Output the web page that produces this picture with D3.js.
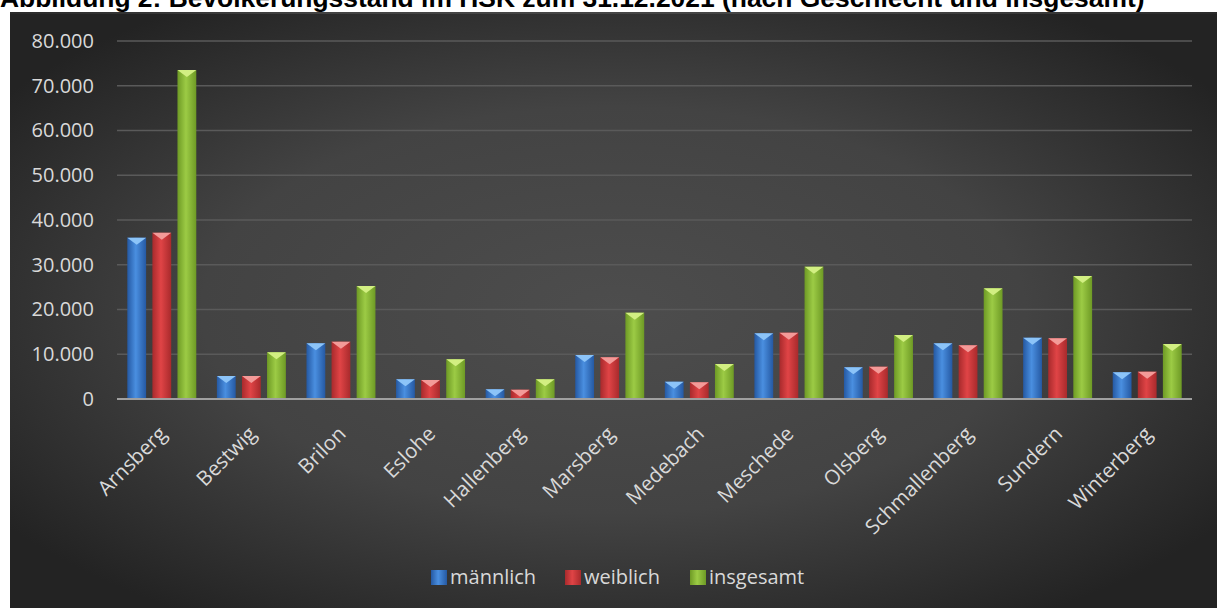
<!DOCTYPE html>
<html><head><meta charset="utf-8">
<script src="https://cdn.jsdelivr.net/npm/d3@7"></script>
<style>html,body{margin:0;padding:0;background:#fff;overflow:hidden}</style>
</head><body>
<svg id="c" width="1217" height="608"></svg>
<script>
const title = "Abbildung 2: Bevölkerungsstand im HSK zum 31.12.2021 (nach Geschlecht und insgesamt)";
const categories = ["Arnsberg","Bestwig","Brilon","Eslohe","Hallenberg","Marsberg","Medebach","Meschede","Olsberg","Schmallenberg","Sundern","Winterberg"];
const seriesNames = ["männlich","weiblich","insgesamt"];
const maennlich = [36050, 5140, 12450, 4400, 2170, 9830, 3870, 14680, 7080, 12440, 13700, 5960];
const weiblich  = [37150, 5140, 12810, 4250, 2080, 9310, 3720, 14820, 7220, 11990, 13550, 6110];
const insgesamt = [73500, 10430, 25250, 8870, 4400, 19290, 7820, 29570, 14300, 24730, 27490, 12290];
const yTicks = [0,10000,20000,30000,40000,50000,60000,70000,80000];

const seriesValues = [maennlich, weiblich, insgesamt];
const colors = [
  {dark:"#2559a3", mid:"#4a8fe0", cap:"#8cc4f8"},
  {dark:"#a82a2c", mid:"#e04446", cap:"#f39a98"},
  {dark:"#6e9a25", mid:"#9ccb45", cap:"#d2ef82"}
];

const svg = d3.select("#c");
const defs = svg.append("defs");
const bg = defs.append("radialGradient").attr("id","bg").attr("cx","50%").attr("cy","50%").attr("r","62%");
bg.append("stop").attr("offset","0%").attr("stop-color","#4d4d4d");
bg.append("stop").attr("offset","55%").attr("stop-color","#434343");
bg.append("stop").attr("offset","100%").attr("stop-color","#232323");
colors.forEach((c,i)=>{
  const g = defs.append("linearGradient").attr("id","bar"+i).attr("x1","0").attr("x2","1").attr("y1","0").attr("y2","0");
  g.append("stop").attr("offset","0%").attr("stop-color",c.dark);
  g.append("stop").attr("offset","45%").attr("stop-color",c.mid);
  g.append("stop").attr("offset","100%").attr("stop-color",c.dark);
});

// background
svg.append("rect").attr("x",10).attr("y",12).attr("width",1207).attr("height",596).attr("fill","url(#bg)");

// title
const t = svg.append("text").attr("x",0).attr("y",7)
  .attr("font-family","'Liberation Sans', Arial, sans-serif").attr("font-weight","bold")
  .attr("font-size",19).attr("fill","#000").text(title);
const tl = t.node().getComputedTextLength();
t.attr("font-size", 19*1145/tl);
svg.append("rect").attr("x",10).attr("y",12).attr("width",1207).attr("height",2).attr("fill","url(#bg)");

const x0 = d3.scaleBand().domain(categories).range([117,1192]).paddingInner(0.23).paddingOuter(0.115);
const x1 = d3.scaleBand().domain(seriesNames).range([0,x0.bandwidth()]).paddingInner(0.25);
const y = d3.scaleLinear().domain([0,80000]).range([399,41]);
const loc = d3.formatLocale({decimal:",", thousands:".", grouping:[3], currency:["","€"]});
const fmt = loc.format(",");

// gridlines
svg.append("g").selectAll("line").data(yTicks.slice(1)).join("line")
  .attr("x1",117).attr("x2",1192).attr("y1",d=>y(d)).attr("y2",d=>y(d))
  .attr("stroke","#5a5a5a").attr("stroke-width",1.5);

// y axis labels
const yAxis = d3.axisLeft(y).tickValues(yTicks).tickFormat(fmt).tickSize(0).tickPadding(0);
const ya = svg.append("g").attr("transform","translate(94,0)").call(yAxis);
ya.select(".domain").remove();
ya.selectAll("text").attr("font-family","'Open Sans', sans-serif").attr("font-size",20).attr("fill","#d9d9d9");

// bars
const groups = svg.append("g").selectAll("g").data(categories).join("g")
  .attr("transform",d=>`translate(${x0(d)},0)`);
seriesNames.forEach((s,si)=>{
  groups.append("rect")
    .attr("x",x1(s)).attr("width",x1.bandwidth())
    .attr("y",(d,i)=>y(seriesValues[si][i]))
    .attr("height",(d,i)=>y(0)-y(seriesValues[si][i]))
    .attr("fill",`url(#bar${si})`);
  groups.append("path")
    .attr("d",(d,i)=>{
      const xx = x1(s), w = x1.bandwidth(), yy = y(seriesValues[si][i]);
      return `M${xx},${yy}L${xx+w},${yy}L${xx+w/2},${yy+7}Z`;
    })
    .attr("fill",colors[si].cap);
});

// baseline
svg.append("line").attr("x1",117).attr("x2",1192).attr("y1",y(0)).attr("y2",y(0))
  .attr("stroke","#a0a0a0").attr("stroke-width",2);

// x axis labels
const xAxis = d3.axisBottom(x0).tickSize(0).tickPadding(0);
const xa = svg.append("g").attr("transform",`translate(0,${y(0)})`).call(xAxis);
xa.select(".domain").remove();
xa.selectAll("text")
  .attr("font-family","'Open Sans', sans-serif").attr("font-size",20.5).attr("fill","#d9d9d9")
  .attr("text-anchor","end").attr("dy","0.35em")
  .attr("transform","translate(1,31) rotate(-45)");

// legend
const legX = [431, 565, 690];
const leg = svg.append("g").selectAll("g").data(seriesNames).join("g")
  .attr("transform",(d,i)=>`translate(${legX[i]},570)`);
leg.append("rect").attr("width",16).attr("height",15).attr("fill",(d,i)=>`url(#bar${i})`);
leg.append("text").attr("x",19).attr("y",14).attr("font-family","'Open Sans', sans-serif")
  .attr("font-size",20).attr("fill","#d9d9d9").text(d=>d);
</script>
</body></html>
